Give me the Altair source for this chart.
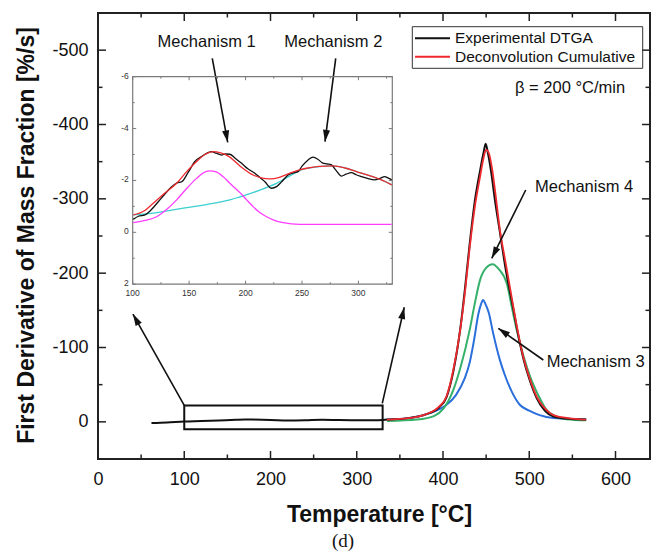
import math
import altair as alt
import pandas as pd

# ---------------- main panel data (Temperature [°C], first derivative [%/s]) ----------------
exp_T = [62, 80, 100, 120, 140, 160, 170, 180, 200, 220, 240, 260, 280, 300, 320,
         335, 360, 380, 395, 404, 412, 420, 426, 431, 437, 443, 447, 449.5, 452, 456,
         460, 466, 472, 481.5, 487, 493, 500, 508.6, 518, 528, 545, 566]
exp_v = [1.5, 0.8, -0.5, -1.1, -1.9, -2.8, -3.1, -3.0, -2.6, -1.9, -2.2, -2.9, -2.4, -2.2, -2.0,
         -3, -5, -10, -19, -33, -68, -125, -185, -240, -298, -338, -362, -374, -362, -335,
         -300, -255, -210, -152, -118, -86, -58, -32, -15, -7, -4, -3]

cum_T = [335, 360, 380, 395, 404, 412, 420, 426, 431, 437, 443, 447, 450, 453, 457, 461,
         466, 472, 477, 481.5, 487, 493, 500, 508.6, 518, 528, 545, 566]
cum_v = [-3, -5, -10, -20, -34, -70, -124, -180, -235, -290, -330, -355, -366, -362, -340, -305,
         -258, -218, -185, -155, -120, -88, -60, -34, -18, -9, -5, -3]

m3_T = [335, 360, 376, 390, 403, 415, 425, 431, 436, 441, 444, 446.5, 449, 453, 458, 466,
        472, 480, 489, 500, 512, 528, 545, 566]
m3_v = [-3, -5, -8.5, -14, -22, -36, -58, -80, -110, -145, -158, -164, -159, -147, -120, -83,
        -62, -40, -23, -15, -9, -5, -4, -3]

m4_T = [335, 370, 390, 400, 412, 420, 431, 437, 443, 450, 457.5, 465, 474, 480, 485.4, 493,
        501, 510, 520, 530, 543, 566]
m4_v = [-1, -3, -8, -17, -43, -72, -124, -160, -191, -207, -212, -205, -186, -153, -124, -90,
        -61, -37, -16, -8, -3.5, -2]

# ---------------- inset data ----------------
in_exp_T = [100.5, 105, 110.9, 116, 122.7, 128, 134.5, 139, 143.4, 149, 155.1, 162, 169.9, 174,
            178.8, 182, 186.1, 191, 196.5, 202, 208.2, 213, 217.1, 223, 227.4, 232, 237.7, 243,
            246.5, 250, 255.4, 259.8, 264, 268, 272, 276.1, 280, 285, 289, 293.8, 298, 302.7,
            308, 314.4, 319, 323.3, 326, 329.5]
in_exp_v = [-0.50, -0.62, -0.67, -0.85, -1.18, -1.45, -1.76, -1.90, -1.95, -2.30, -2.73, -2.95,
            -3.11, -3.05, -2.98, -3.02, -3.01, -2.85, -2.66, -2.45, -2.28, -2.10, -1.95, -1.70,
            -1.76, -1.95, -2.21, -2.30, -2.34, -2.55, -2.79, -2.90, -2.82, -2.68, -2.64, -2.60,
            -2.40, -2.17, -2.24, -2.30, -2.22, -2.15, -2.08, -2.02, -2.08, -2.15, -2.10, -2.02]

in_cum_T = [100.5, 110, 118.2, 128, 138.9, 147, 156.6, 164, 171.3, 178, 185, 195, 206.7, 214,
            221.5, 230, 239.2, 247, 254, 265, 277.5, 288, 298.2, 309, 318.8, 324, 329.5]
in_cum_v = [-0.67, -0.82, -1.12, -1.50, -1.89, -2.30, -2.73, -3.00, -3.11, -3.06, -2.93, -2.56,
            -2.21, -2.10, -2.06, -2.12, -2.28, -2.40, -2.47, -2.54, -2.56, -2.48, -2.34, -2.20,
            -2.05, -1.95, -1.83]

in_m1_T = [100.5, 110, 121.2, 130, 138.9, 148, 156.6, 162, 168.4, 174, 180, 186.1, 195, 201,
           206.7, 212, 218.6, 225, 233.3, 248, 290, 329.5]
in_m1_v = [-0.37, -0.45, -0.60, -0.88, -1.25, -1.70, -2.08, -2.28, -2.37, -2.33, -2.15, -1.89,
           -1.53, -1.25, -0.99, -0.78, -0.60, -0.47, -0.37, -0.31, -0.31, -0.31]

in_m2_T = [100.5, 120, 144.8, 165, 186.1, 195, 203, 212.7, 220, 227.4, 235, 243.6, 250, 260,
           270, 277.5, 288, 298.2, 309, 318.8, 329.5]
in_m2_v = [-0.67, -0.75, -0.93, -1.07, -1.25, -1.37, -1.48, -1.63, -1.75, -1.89, -2.07, -2.28,
           -2.42, -2.50, -2.55, -2.56, -2.48, -2.34, -2.20, -2.05, -1.83]

# ---------------- annotations ----------------
box_T = [100, 330]
box_v = [-22, 10]

arr_tail_T = [100, 329.6, 132.5, 275.6, 495.9, 516.3]
arr_tail_v = [-22, -24.9, -489, -489, -311.9, -83.2]
arr_tip_T = [40.5, 355.1, 150.4, 263.2, 456.5, 464.1]
arr_tip_v = [-145, -154.1, -376, -376.9, -220, -125.8]

lab_center_text = ["Mechanism 1", "Mechanism 2"]
lab_center_T = [126, 272.8]
lab_center_v = [-511.4, -511.4]
lab_left_text = ["Mechanism 4", "Mechanism 3", "\u03b2 = 200 \u00b0C/min"]
lab_left_T = [506.7, 520.2, 483.5]
lab_left_v = [-315.9, -80.9, -448.7]

legend_labels = ["Experimental DTGA", "Deconvolution Cumulative"]
legend_colors = ["#111111", "#ee2a2f"]

x_label_vals = [0, 100, 200, 300, 400, 500, 600]
y_label_vals = [-500, -400, -300, -200, -100, 0]
x_major = [0, 100, 200, 300, 400, 500, 600]
x_minor = [50, 150, 250, 350, 450, 550]
y_major = [-500, -400, -300, -200, -100, 0]
y_minor = [-550, -450, -350, -250, -150, -50, 50]

in_x_labels = [100, 150, 200, 250, 300]
in_y_labels = [-6, -4, -2, 0, 2]
in_x_minor = [125, 175, 225, 275, 325]
in_y_minor = [-5, -3, -1, 1]

# ---------------- layout ----------------
W, H = 552, 446
X_DOM = [0, 640]
Y_DOM = [-550, 50]
IN_X_DOM = [100, 330]
IN_Y_DOM = [-6, 2]
IN_X_RNG = [34.7, 294.3]
IN_Y_RNG = [63.7, 271.2]

FONT = "Liberation Sans"
FRAME = "#222222"
GRAY = "#7a7a7a"
RED = "#ee2a2f"
BLUE = "#2a6fdb"
GREEN = "#35b06a"
MAGENTA = "#ff3cff"
CYAN = "#3ccfcf"

xs = alt.Scale(domain=X_DOM, range=[0, W], nice=False, zero=False)
ys = alt.Scale(domain=Y_DOM, range=[0, H], nice=False, zero=False)
isx = alt.Scale(domain=IN_X_DOM, range=IN_X_RNG, nice=False, zero=False)
isy = alt.Scale(domain=IN_Y_DOM, range=IN_Y_RNG, nice=False, zero=False)

XAX = alt.Axis(values=x_label_vals, title="Temperature [\u00b0C]", ticks=False, tickSize=0,
               domain=False, grid=False, labelFont=FONT, labelFontSize=18, labelColor="#111",
               labelPadding=11, labelFlush=False, labelOverlap=False,
               titleFont=FONT, titleFontSize=23, titleFontWeight="bold", titleColor="#111",
               titleBaseline="alphabetic", titleY=62, titleX=281)
YAX = alt.Axis(values=y_label_vals, title="First Derivative of Mass Fraction [%/s]", ticks=False,
               tickSize=0, domain=False, grid=False, labelFont=FONT, labelFontSize=18,
               labelColor="#111", labelPadding=10, labelFlush=False, labelOverlap=False,
               labelExpr="replace(datum.label, '\u2212', '-')",
               titleFont=FONT, titleFontSize=23, titleFontWeight="bold", titleColor="#111",
               titleAngle=270, titleBaseline="alphabetic", titleAlign="center",
               titleX=-65, titleY=222)


def mx(field):
    return alt.X(field, type="quantitative", scale=xs, axis=XAX)


def my(field):
    return alt.Y(field, type="quantitative", scale=ys, axis=YAX)


def ix(field):
    return alt.X(field, type="quantitative", scale=isx, axis=None)


def iy(field):
    return alt.Y(field, type="quantitative", scale=isy, axis=None)


def main_line(T, v, color, width):
    df = pd.DataFrame({"T": T, "v": v})
    return alt.Chart(df).mark_line(color=color, strokeWidth=width, interpolate="monotone").encode(
        x=mx("T"), y=my("v"))


def inset_line(T, v, color, width):
    df = pd.DataFrame({"T": T, "v": v})
    return alt.Chart(df).mark_line(color=color, strokeWidth=width, interpolate="monotone").encode(
        x=ix("T"), y=iy("v"))


main_layers = []
main_layers.append(main_line(m3_T, m3_v, BLUE, 2))
main_layers.append(main_line(m4_T, m4_v, GREEN, 2))
main_layers.append(main_line(exp_T, exp_v, "#111111", 2))
main_layers.append(main_line(cum_T, cum_v, RED, 1.8))

# zoom box
box_df = pd.DataFrame({"x1": [box_T[0]], "x2": [box_T[1]], "y1": [box_v[0]], "y2": [box_v[1]]})
main_layers.append(alt.Chart(box_df).mark_rect(fillOpacity=0, stroke="#111", strokeWidth=2).encode(
    x=mx("x1"), x2="x2:Q", y=my("y1"), y2="y2:Q"))

# arrows
kx = W / (X_DOM[1] - X_DOM[0])
ky = H / (Y_DOM[1] - Y_DOM[0])
angles = []
for t0, v0, t1, v1 in zip(arr_tail_T, arr_tail_v, arr_tip_T, arr_tip_v):
    dx = (t1 - t0) * kx
    dy = (v1 - v0) * ky
    angles.append(math.degrees(math.atan2(dx, -dy)) % 360)
arr_df = pd.DataFrame({"t0": arr_tail_T, "v0": arr_tail_v, "t1": arr_tip_T, "v1": arr_tip_v,
                       "ang": angles})
main_layers.append(alt.Chart(arr_df).mark_rule(color="#111", strokeWidth=1.6).encode(
    x=mx("t0"), x2="t1:Q", y=my("v0"), y2="v1:Q"))
HEAD = "M0,0L-0.3,1L0.3,1Z"
main_layers.append(alt.Chart(arr_df).mark_point(shape=HEAD, filled=True, size=560, color="#111",
                                                 opacity=1, strokeWidth=0).encode(
    x=mx("t1"), y=my("v1"), angle=alt.Angle("ang:Q", scale=None)))

# text annotations
cdf = pd.DataFrame({"T": lab_center_T, "v": lab_center_v, "txt": lab_center_text})
main_layers.append(alt.Chart(cdf).mark_text(font=FONT, fontSize=16.5, color="#111", align="center",
                                             baseline="middle").encode(
    x=mx("T"), y=my("v"), text="txt:N"))
ldf = pd.DataFrame({"T": lab_left_T, "v": lab_left_v, "txt": lab_left_text})
main_layers.append(alt.Chart(ldf).mark_text(font=FONT, fontSize=16.5, color="#111", align="left",
                                             baseline="middle").encode(
    x=mx("T"), y=my("v"), text="txt:N"))

# inward frame ticks (main)
for vals, ln in ((x_major, 8), (x_minor, 4.5)):
    d = pd.DataFrame({"t": vals})
    main_layers.append(alt.Chart(d).mark_rule(color=FRAME, strokeWidth=1.5).encode(
        x=mx("t"), y=alt.value(H), y2=alt.value(H - ln)))
    main_layers.append(alt.Chart(d).mark_rule(color=FRAME, strokeWidth=1.5).encode(
        x=mx("t"), y=alt.value(0), y2=alt.value(ln)))
for vals, ln in ((y_major, 8), (y_minor, 4.5)):
    d = pd.DataFrame({"t": vals})
    main_layers.append(alt.Chart(d).mark_rule(color=FRAME, strokeWidth=1.5).encode(
        y=my("t"), x=alt.value(0), x2=alt.value(ln)))
    main_layers.append(alt.Chart(d).mark_rule(color=FRAME, strokeWidth=1.5).encode(
        y=my("t"), x=alt.value(W), x2=alt.value(W - ln)))

# manual legend
one = pd.DataFrame({"a": [0]})
main_layers.append(alt.Chart(one).mark_rect(fillOpacity=0, stroke="#333", strokeWidth=1).encode(
    x=alt.value(314.3), x2=alt.value(544.7), y=alt.value(13.7), y2=alt.value(55.3)))
for i, (lab, col) in enumerate(zip(legend_labels, legend_colors)):
    yy = 25.3 + i * 18.4
    main_layers.append(alt.Chart(one).mark_rule(color=col, strokeWidth=2).encode(
        x=alt.value(317), x2=alt.value(352), y=alt.value(yy)))
    main_layers.append(alt.Chart(pd.DataFrame({"lab": [lab]})).mark_text(
        font=FONT, fontSize=15.5, color="#111", align="left", baseline="middle").encode(
        x=alt.value(357), y=alt.value(yy), text="lab:N"))

# panel caption
main_layers.append(alt.Chart(pd.DataFrame({"lab": ["(d)"]})).mark_text(
    font="Liberation Serif", fontSize=19, color="#111", align="center", baseline="middle").encode(
    x=alt.value(245), y=alt.value(528), text="lab:N"))

main = alt.layer(*main_layers)

# ---------------- inset ----------------
inset_layers = []
frame_df = pd.DataFrame({"x1": [IN_X_DOM[0]], "x2": [IN_X_DOM[1]], "y1": [IN_Y_DOM[0]], "y2": [IN_Y_DOM[1]]})
inset_layers.append(alt.Chart(frame_df).mark_rect(fillOpacity=0, stroke=GRAY, strokeWidth=1.2).encode(
    x=ix("x1"), x2="x2:Q", y=iy("y1"), y2="y2:Q"))
inset_layers.append(inset_line(in_m2_T, in_m2_v, CYAN, 1.3))
inset_layers.append(inset_line(in_m1_T, in_m1_v, MAGENTA, 1.3))
inset_layers.append(inset_line(in_exp_T, in_exp_v, "#111111", 1.3))
inset_layers.append(inset_line(in_cum_T, in_cum_v, RED, 1.3))

for vals, ln in ((in_x_labels, 3.5), (in_x_minor, 2)):
    d = pd.DataFrame({"t": vals})
    inset_layers.append(alt.Chart(d).mark_rule(color=GRAY, strokeWidth=1).encode(
        x=ix("t"), y=alt.value(IN_Y_RNG[1]), y2=alt.value(IN_Y_RNG[1] - ln)))
    inset_layers.append(alt.Chart(d).mark_rule(color=GRAY, strokeWidth=1).encode(
        x=ix("t"), y=alt.value(IN_Y_RNG[0]), y2=alt.value(IN_Y_RNG[0] + ln)))
for vals, ln in ((in_y_labels, 3.5), (in_y_minor, 2)):
    d = pd.DataFrame({"t": vals})
    inset_layers.append(alt.Chart(d).mark_rule(color=GRAY, strokeWidth=1).encode(
        y=iy("t"), x=alt.value(IN_X_RNG[0]), x2=alt.value(IN_X_RNG[0] + ln)))
    inset_layers.append(alt.Chart(d).mark_rule(color=GRAY, strokeWidth=1).encode(
        y=iy("t"), x=alt.value(IN_X_RNG[1]), x2=alt.value(IN_X_RNG[1] - ln)))

ixl = pd.DataFrame({"t": in_x_labels, "lab": [str(v) for v in in_x_labels]})
inset_layers.append(alt.Chart(ixl).mark_text(font=FONT, fontSize=8.5, color="#333", align="center",
                                              baseline="top").encode(
    x=ix("t"), y=alt.value(IN_Y_RNG[1] + 4.5), text="lab:N"))
iyl = pd.DataFrame({"t": in_y_labels, "lab": [str(v) for v in in_y_labels]})
inset_layers.append(alt.Chart(iyl).mark_text(font=FONT, fontSize=8.5, color="#333", align="right",
                                              baseline="middle", dy=-1).encode(
    y=iy("t"), x=alt.value(IN_X_RNG[0] - 4), text="lab:N"))

inset = alt.layer(*inset_layers)

chart = alt.layer(main, inset).resolve_scale(x="independent", y="independent").properties(
    width=W, height=H,
    padding={"left": 98, "top": 13, "right": 1, "bottom": 97},
    autosize=alt.AutoSizeParams(type="none"),
    background="white",
).configure_view(stroke=FRAME, strokeWidth=2)

chart.save("out.html", embed_options={"renderer": "svg", "actions": False})
